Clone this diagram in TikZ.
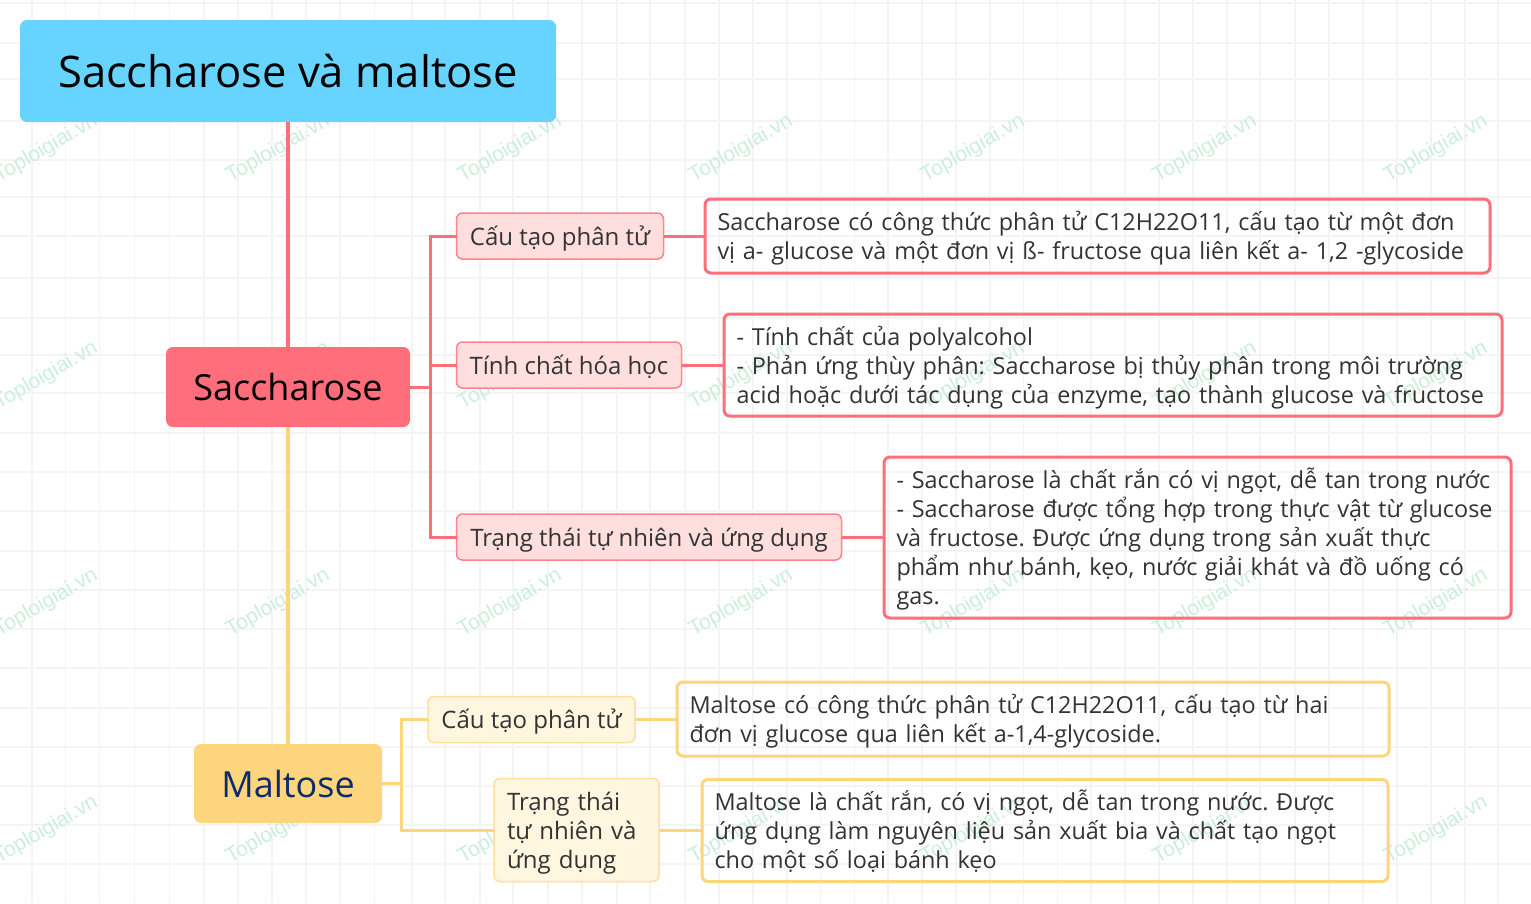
\documentclass[tikz,border=0pt]{standalone}
\usepackage{fontspec}
\setmainfont{Open Sans}
\newfontfamily\markfont{Liberation Sans}
\definecolor{gridgray}{HTML}{F4F4F4}
\definecolor{markgreen}{HTML}{CDEEDC}
\definecolor{rootblue}{HTML}{66D4FF}
\definecolor{saccred}{HTML}{FF6E7A}
\definecolor{saccpale}{HTML}{FFDEDE}
\definecolor{maltgold}{HTML}{FDD57C}
\definecolor{maltpale}{HTML}{FFF6DF}
\definecolor{inkgray}{HTML}{333333}
\definecolor{inknavy}{HTML}{0F2A6B}
\tikzset{
	gridline/.style={draw=gridgray,line width=1.6pt},
	watermark/.style={text=markgreen,rotate=30,font=\markfont\fontsize{21}{25}\selectfont,inner sep=0pt},
	rootbox/.style={fill=rootblue,rounded corners=7pt,outer sep=0pt,text=black,font=\fontsize{43.5}{52}\selectfont},
	sacchead/.style={fill=saccred,rounded corners=7pt,outer sep=0pt,text=black,font=\fontsize{36}{44}\selectfont},
	malthead/.style={fill=maltgold,rounded corners=7pt,outer sep=0pt,text=inknavy,font=\fontsize{36}{44}\selectfont},
	saccsub/.style={draw=saccred!85!white,fill=saccpale,line width=1.5pt,rounded corners=6pt,outer sep=0pt,text=inkgray,text height=24pt,text depth=6pt,font=\fontsize{24}{29}\selectfont},
	maltsub/.style={draw=maltgold!75!white,fill=maltpale,line width=1.5pt,rounded corners=6pt,outer sep=0pt,text=inkgray,font=\fontsize{24}{29}\selectfont},
	saccnote/.style={draw=saccred,line width=3pt,rounded corners=6pt,outer sep=0pt,inner xsep=12.5pt,inner ysep=0pt,align=left,text=inkgray,font=\fontsize{23.4}{29}\selectfont},
	maltnote/.style={draw=maltgold,line width=3pt,rounded corners=6pt,outer sep=0pt,inner xsep=12.5pt,inner ysep=0pt,align=left,text=inkgray,font=\fontsize{23.4}{29}\selectfont},
	sacclink/.style={draw=saccred,line width=3pt},
	maltlink/.style={draw=maltgold,line width=3pt},
}
\begin{document}
\frenchspacing
\begin{tikzpicture}[x=1pt,y=-1pt]
	\useasboundingbox[fill=white] (0,0) rectangle (1531,903);
	
	\foreach \gx in {31.7,65.3,99.3,134.3,169.3,203.7,237.7,271.7,305.7,339.7,374.3,411.7,445,480,513,548,582,617,650,685,719,753,787,820.5,854.4,888.2,922,956,989.7,1023.5,1057.4,1091.2,1125,1159,1192.7,1226.7,1260,1294.7,1328.7,1362.7,1396.7,1430.7,1464.7,1498}
		\draw[gridline] (\gx,0)--(\gx,903);
	\foreach \gy in {3,43,79,121,160,197,236,278,318,355,393,433,472,511,551,590,629,668,708,747,786,825,864}
		\draw[gridline] (0,\gy)--(1531,\gy);
	
	\foreach \my in {149,376,603,830}
		\foreach \mx in {46,278,510,741,973,1205,1436}
			\node[watermark] (mark-\mx-\my) at (\mx,\my) {Toploigiai.vn};
	
	\node[rootbox,minimum width=536pt,minimum height=102pt] (root) at (288,71) {Saccharose và maltose};
	\node[sacchead,minimum width=244pt,minimum height=80pt] (saccharose) at (288,387) {Saccharose};
	\node[malthead,minimum width=188pt,minimum height=79pt] (maltose) at (288,783.5) {Maltose};
	
	\node[saccsub,minimum width=207pt,minimum height=46pt] (scautao) at (560,236) {Cấu tạo phân tử};
	\node[saccsub,minimum width=225pt,minimum height=46pt] (stinhchat) at (569,365) {Tính chất hóa học};
	\node[saccsub,minimum width=385pt,minimum height=46pt] (strangthai) at (649,537) {Trạng thái tự nhiên và ứng dụng};
	
	\node[saccnote,text width=760pt,text depth=29.6pt,minimum height=74pt] (snote1) at (1097.5,236) {Saccharose có công thức phân tử C12H22O11, cấu tạo từ một đơn\\vị a- glucose và một đơn vị ß- fructose qua liên kết a- 1,2 -glycoside};
	\node[saccnote,text width=753pt,text depth=57.6pt,minimum height=102pt] (snote2) at (1113,365) {- Tính chất của polyalcohol\\- Phản ứng thùy phân: Saccharose bị thủy phân trong môi trường\\acid hoặc dưới tác dụng của enzyme, tạo thành glucose và fructose};
	\node[saccnote,text width=602pt,text depth=119.6pt,minimum height=161pt] (snote3) at (1197.5,537.5) {- Saccharose là chất rắn có vị ngọt, dễ tan trong nước\\- Saccharose được tổng hợp trong thực vật từ glucose\\và fructose. Được ứng dụng trong sản xuất thực\\phẩm như bánh, kẹo, nước giải khát và đồ uống có\\gas.};
	
	\node[maltsub,text height=24pt,text depth=6pt,minimum width=207pt,minimum height=46pt] (mcautao) at (531.5,719.5) {Cấu tạo phân tử};
	\node[maltsub,align=left,text width=139pt,text depth=57.8pt,inner xsep=13pt,minimum height=103pt] (mtrangthai) at (576.5,830) {Trạng thái\\tự nhiên và\\ứng dụng};
	
	\node[maltnote,text width=687pt,text depth=30.6pt,minimum height=74pt] (mnote1) at (1033,719) {Maltose có công thức phân tử C12H22O11, cấu tạo từ hai\\đơn vị glucose qua liên kết a-1,4-glycoside.};
	\node[maltnote,text width=661pt,text depth=61.6pt,minimum height=102pt] (mnote2) at (1045,830.5) {Maltose là chất rắn, có vị ngọt, dễ tan trong nước. Được\\ứng dụng làm nguyên liệu sản xuất bia và chất tạo ngọt\\cho một số loại bánh kẹo};
	
	\coordinate (strunk) at (430,387);
	\coordinate (mtrunk) at (401,783.5);
	
	\draw[sacclink,line width=4pt] (root)--(saccharose);
	\draw[maltlink,line width=4pt] (saccharose)--(maltose);
	
	\draw[sacclink] (saccharose.east)--(strunk);
	\draw[sacclink] (strunk)|-(scautao.west);
	\draw[sacclink] (strunk)|-(stinhchat.west);
	\draw[sacclink] (strunk)|-(strangthai.west);
	\draw[sacclink] (scautao.east)--(scautao.east-|snote1.west);
	\draw[sacclink] (stinhchat.east)--(stinhchat.east-|snote2.west);
	\draw[sacclink] (strangthai.east)--(strangthai.east-|snote3.west);
	
	\draw[maltlink] (maltose.east)--(mtrunk);
	\draw[maltlink] (mtrunk)|-(mcautao.west);
	\draw[maltlink] (mtrunk)|-(mtrangthai.west);
	\draw[maltlink] (mcautao.east)--(mcautao.east-|mnote1.west);
	\draw[maltlink] (mtrangthai.east)--(mtrangthai.east-|mnote2.west);
\end{tikzpicture}
\end{document}
